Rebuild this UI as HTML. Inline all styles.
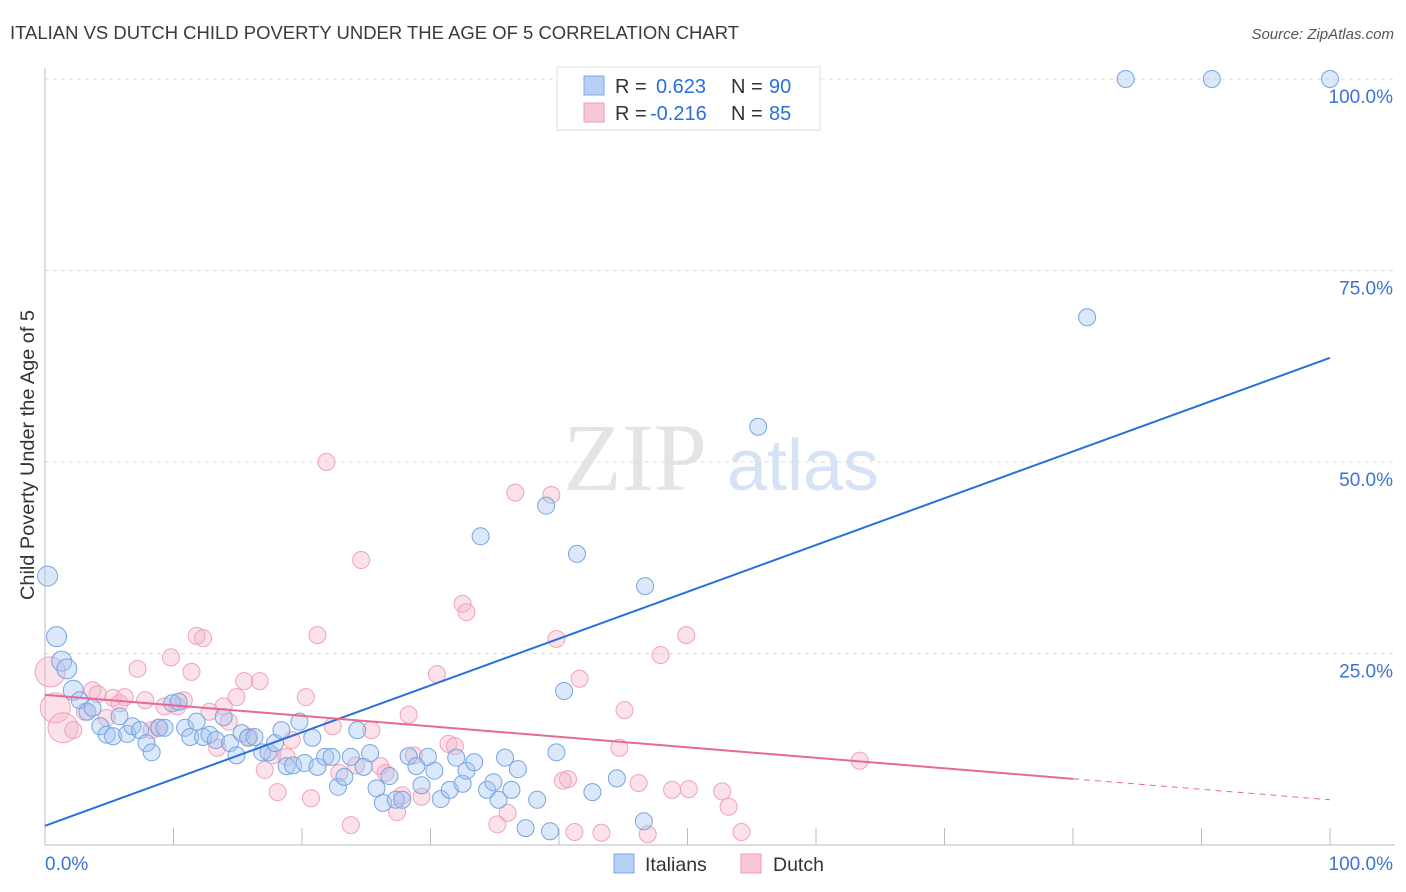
<!DOCTYPE html>
<html><head><meta charset="utf-8"><style>
body{margin:0;background:#fff;font-family:"Liberation Sans",sans-serif;}
#wrap{position:relative;width:1406px;height:892px;overflow:hidden;}
</style></head><body>
<div id="wrap">
<svg id="svg" width="1406" height="892" xmlns="http://www.w3.org/2000/svg">
<text x="10" y="39" font-size="18" fill="#3a3a3a" textLength="729" lengthAdjust="spacingAndGlyphs">ITALIAN VS DUTCH CHILD POVERTY UNDER THE AGE OF 5 CORRELATION CHART</text>
<text x="1394" y="39" font-size="15" fill="#555" font-style="italic" text-anchor="end">Source: ZipAtlas.com</text>
<text x="0" y="0" font-size="19" fill="#333" text-anchor="middle" textLength="290" lengthAdjust="spacingAndGlyphs" transform="translate(34,455) rotate(-90)">Child Poverty Under the Age of 5</text>
<g><text x="635" y="490" font-size="96" font-family="Liberation Serif,serif" fill="#e4e4e4" text-anchor="middle">ZIP</text><text x="803" y="490" font-size="72" fill="#d6e3f5" text-anchor="middle">atlas</text></g>
<g id="grid"></g><g id="axes"></g><g id="pink"></g><g id="blue"></g><g id="lines"></g>
<g>
<rect x="557" y="67" width="263" height="63" fill="#fff" stroke="#ddd"/>
<rect x="584" y="76" width="20" height="19" fill="#b5d0f3" stroke="#7ea9e6"/>
<text x="615" y="93" font-size="20" fill="#333">R = <tspan x="656" fill="#2a6fdb">0.623</tspan><tspan x="731">N = </tspan><tspan x="769" fill="#2a6fdb">90</tspan></text>
<rect x="584" y="103" width="20" height="19" fill="#f9c8d7" stroke="#ee9ab5"/>
<text x="615" y="120" font-size="20" fill="#333">R = <tspan x="650" fill="#2a6fdb">-0.216</tspan><tspan x="731">N = </tspan><tspan x="769" fill="#2a6fdb">85</tspan></text>
</g>
<g>
<rect x="614" y="854" width="20" height="19" fill="#b5d0f3" stroke="#7ea9e6"/>
<text x="645" y="871" font-size="19.5" fill="#333">Italians</text>
<rect x="741" y="854" width="20" height="19" fill="#f9c8d7" stroke="#ee9ab5"/>
<text x="773" y="871" font-size="19.5" fill="#333">Dutch</text>
</g>
</svg>
</div>
<script>
const blueX=[0.2,0.9,1.3,1.7,2.2,2.7,3.3,3.7,4.3,4.8,5.3,5.8,6.4,6.8,7.4,7.9,8.3,8.9,9.3,9.9,10.4,10.9,11.3,11.8,12.3,12.8,13.3,13.9,14.4,14.9,15.3,15.8,16.3,16.9,17.4,17.9,18.4,18.8,19.3,19.8,20.2,20.8,21.2,21.8,22.3,22.8,23.3,23.8,24.3,24.8,25.3,25.8,26.3,26.8,27.3,27.8,28.3,28.9,29.3,29.8,30.3,30.8,31.5,32.0,32.5,32.8,33.4,33.9,34.4,34.9,35.3,35.8,36.3,36.8,37.4,38.3,39.0,39.3,39.8,40.4,41.4,42.6,44.5,46.6,46.7,55.5,81.1,84.1,90.8,100];
const blueY=[35.1,27.2,24.0,23.0,20.2,18.9,17.4,17.9,15.5,14.4,14.2,16.8,14.5,15.5,15.0,13.3,12.1,15.3,15.3,18.5,18.7,15.3,14.1,16.1,14.1,14.4,13.7,16.7,13.3,11.7,14.6,14.0,14.1,12.1,12.1,13.3,15.0,10.3,10.4,16.1,10.7,14.0,10.2,11.5,11.5,7.6,8.9,11.5,15.0,10.2,12.0,7.4,5.5,9.0,5.9,5.9,11.6,10.3,7.8,11.5,9.7,6.0,7.2,11.4,8.0,9.7,10.8,40.3,7.2,8.2,5.9,11.4,7.2,9.9,2.2,5.9,44.3,1.8,12.1,20.1,38.0,6.9,8.7,3.1,33.8,54.6,68.9,100,100,100];
const pinkX=[0.4,0.8,1.4,2.2,3.1,3.7,4.1,4.8,5.3,5.8,6.2,7.2,7.8,8.3,8.8,9.3,9.8,10.3,10.8,11.4,11.8,12.3,12.8,13.4,13.9,14.3,14.9,15.5,15.9,16.7,17.1,17.7,18.1,18.8,19.2,20.3,20.7,21.2,21.9,22.4,22.9,23.8,24.2,24.6,25.4,26.1,26.5,27.4,27.8,28.3,28.7,29.3,30.5,31.4,31.9,32.5,32.8,35.2,36.0,36.6,39.4,39.8,40.3,40.7,41.2,41.6,43.3,44.7,45.1,46.2,46.9,47.9,48.8,49.9,50.1,52.7,53.2,54.2,63.4];
const pinkY=[22.6,17.9,15.3,15.0,17.4,20.2,19.7,16.6,19.2,18.5,19.3,23.0,18.9,15.0,15.3,18.1,24.5,18.1,18.9,22.6,27.3,27.0,17.4,12.7,18.1,16.1,19.3,21.4,14.1,21.4,9.8,11.7,6.9,11.5,13.7,19.3,6.1,27.4,50.0,15.5,9.4,2.6,10.4,37.2,15.0,10.3,9.4,4.3,6.5,17.0,11.7,6.3,22.3,13.2,12.9,31.5,30.4,2.7,4.2,46.0,45.7,26.9,8.4,8.6,1.7,21.7,1.6,12.7,17.6,8.1,1.4,24.8,7.2,27.4,7.3,7.0,5.0,1.7,11.0];
const blueTrend=[2.5,63.6];
const pinkTrend=[19.6,5.9];
const pinkSolidEnd=80;
const yTicks=[25,50,75,100];
const xTicks=[0,10,20,30,40,50,60,70,80,90,100];
const NS="http://www.w3.org/2000/svg";
const sx=v=>45+v*12.85, sy=v=>845-v*7.66;
function mk(tag,parent,attrs){const e=document.createElementNS(NS,tag);for(const k in attrs)e.setAttribute(k,attrs[k]);document.getElementById(parent).appendChild(e);return e;}
yTicks.forEach(t=>{
 const l=mk('line','grid',{x1:45,x2:1395,y1:sy(t),y2:sy(t),stroke:'#dcdcdc','stroke-dasharray':'4,4'});
 
 
 const tx=mk('text','grid',{x:1393,y:sy(t)+24,'font-size':19,fill:'#3b73d6','text-anchor':'end'});
 tx.textContent=t.toFixed(1)+'%';
 
 
});
const ax=mk('line','axes',{x1:45,x2:1395,y1:845,y2:845,stroke:'#bbb'});


const ay=mk('line','axes',{x1:45,x2:45,y1:68,y2:845,stroke:'#bbb'});


xTicks.forEach(t=>{
 const l=mk('line','axes',{x1:sx(t),x2:sx(t),y1:828,y2:845,stroke:'#bbb'});
 
 
});
[[0,'start',45],[100,'end',1393]].forEach(([v,a,x])=>{
 const tx=mk('text','axes',{x:x,y:870,'font-size':19,fill:'#3b73d6','text-anchor':a});
 tx.textContent=v.toFixed(1)+'%';
 
 
});
pinkX.forEach((x,i)=>{
 const r=i<3?15:8.5;
 const c=mk('circle','pink',{cx:sx(x),cy:sy(pinkY[i]),r:r,fill:'rgba(246,180,200,0.4)',stroke:'#f0a3bb','stroke-width':1});
 
 
});
blueX.forEach((x,i)=>{
 const r=i<5?10:8.5;
 const c=mk('circle','blue',{cx:sx(x),cy:sy(blueY[i]),r:r,fill:'rgba(165,198,240,0.4)',stroke:'#77a4e2','stroke-width':1});
 
 
});
const bl=mk('line','lines',{x1:sx(0),y1:sy(blueTrend[0]),x2:sx(100),y2:sy(blueTrend[1]),stroke:'#2a6fdb','stroke-width':2});


const pe=pinkTrend[0]+(pinkTrend[1]-pinkTrend[0])*pinkSolidEnd/100;
const pl=mk('line','lines',{x1:sx(0),y1:sy(pinkTrend[0]),x2:sx(pinkSolidEnd),y2:sy(pe),stroke:'#e86a94','stroke-width':2});


const pd=mk('line','lines',{x1:sx(pinkSolidEnd),y1:sy(pe),x2:sx(100),y2:sy(pinkTrend[1]),stroke:'#e86a94','stroke-width':1,'stroke-dasharray':'6,5'});


</script>
</body></html>
